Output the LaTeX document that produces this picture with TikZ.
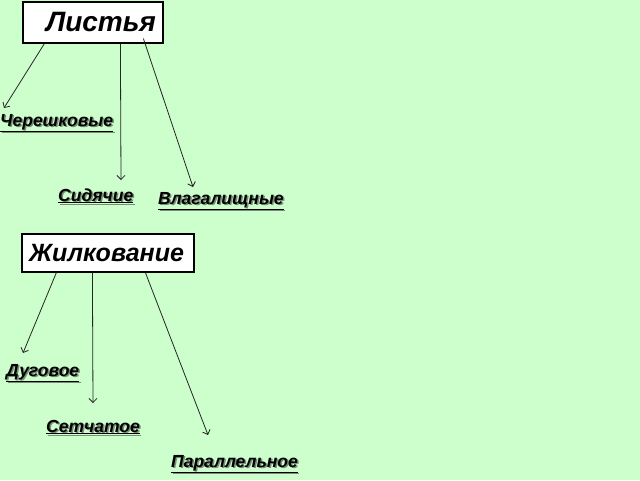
\documentclass[tikz,border=0pt]{standalone}
\usepackage{fontspec}
\setmainfont{Liberation Sans}
\usetikzlibrary{arrows,arrows.meta}
\definecolor{bggreen}{RGB}{204,255,204}
\definecolor{shgray}{RGB}{120,140,120}
\newcommand\shtxt[1]{\rlap{\kern1.5pt\raisebox{-1.5pt}{\color{shgray}\underline{#1}}}\underline{#1}}
\tikzset{
  box/.style={rectangle,draw,line width=1.2pt,fill=white,inner sep=0pt,font=\bfseries\itshape},
  lbl/.style={inner sep=0pt,anchor=base west,font=\fontsize{17.5}{20}\selectfont\bfseries\itshape},
  link/.style={->,line width=0.8pt,draw=black!85}
}
\begin{document}
\begin{tikzpicture}[x=1pt,y=-1pt,>={Straight Barb[length=4pt,width=8pt]}]
      \fill[bggreen] (0,0) rectangle (640,480);
      \useasboundingbox (0,0) rectangle (640,480);
      \node[box,minimum width=140pt,minimum height=41pt,font=\fontsize{28}{30}\selectfont\bfseries\itshape]
        (lst) at (93,22.5) {\hspace*{16pt}Листья};
      \node[lbl] (cher) at (0,126) {\shtxt{Черешковые}};
      \node[lbl] (sid) at (58,201) {\shtxt{Сидячие}};
      \node[lbl] (vlag) at (158,204) {\shtxt{Влагалищные}};
      \coordinate (c1) at (4,108); \coordinate (c2) at (121,180);
      \coordinate (c3) at (193,187);
      \draw[link] ([xshift=22pt]lst.south west) -- (c1);
      \draw[link] ([xshift=98pt]lst.south west) -- (c2);
      \draw[link] ([xshift=121pt,yshift=5pt]lst.south west) -- (c3);

      \node[box,minimum width=172pt,minimum height=38pt,font=\fontsize{25}{28}\selectfont\bfseries\itshape]
        (zhil) at (108,253) {Жилкование\hspace*{3pt}};
      \node[lbl] (dug) at (6,376) {\shtxt{Дуговое}};
      \node[lbl] (set) at (46,432) {\shtxt{Сетчатое}};
      \node[lbl] (par) at (171,467) {\shtxt{Параллельное}};
      \coordinate (d1) at (23,353); \coordinate (d2) at (93,403);
      \coordinate (d3) at (208,435);
      \draw[link] ([xshift=35pt]zhil.south west) -- (d1);
      \draw[link] ([xshift=71pt]zhil.south west) -- (d2);
      \draw[link] ([xshift=124pt]zhil.south west) -- (d3);
\end{tikzpicture}
\end{document}
